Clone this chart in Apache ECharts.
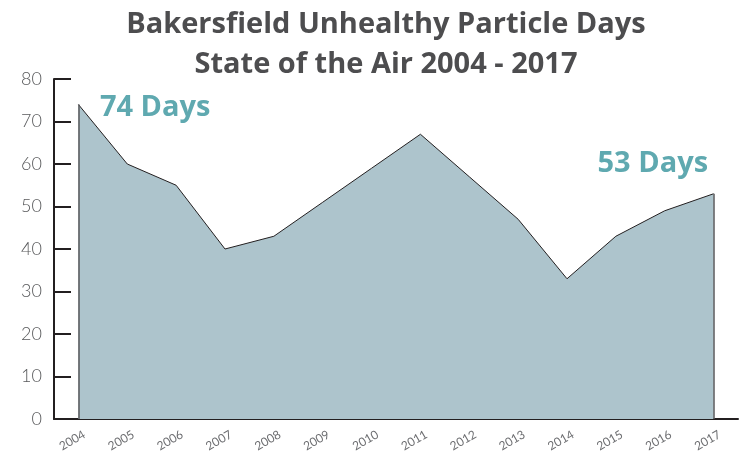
<!DOCTYPE html>
<html>
<head>
<meta charset="UTF-8">
<title>Bakersfield Unhealthy Particle Days</title>
<script src="https://cdn.jsdelivr.net/npm/echarts@6/dist/echarts.min.js"></script>
<style>
  html, body { margin: 0; padding: 0; background: #fff; }
  #main { width: 743px; height: 460px; }
</style>
</head>
<body>
<div id="main"></div>
<script>
// data
var years = ['2004', '2005', '2006', '2007', '2008', '2009', '2010', '2011', '2012', '2013', '2014', '2015', '2016', '2017'];
var days = [74, 60, 55, 40, 43, 51, 59, 67, 57, 47, 33, 43, 49, 53];
var yTicks = [0, 10, 20, 30, 40, 50, 60, 70, 80];

var first = 0;
var last = days.length - 1;

var chart = echarts.init(document.getElementById('main'));
var option = {
  animation: false,
  title: {
    text: 'Bakersfield Unhealthy Particle Days\nState of the Air 2004 - 2017',
    left: 381,
    top: 0,
    textAlign: 'center',
    textStyle: {
      fontFamily: 'Open Sans',
      fontSize: 29,
      fontWeight: 'bold',
      color: '#4d4d4f',
      lineHeight: 40
    }
  },
  grid: { left: 54, right: 5, top: 79, bottom: 41 },
  xAxis: {
    type: 'category',
    data: years,
    boundaryGap: true,
    axisLine: { lineStyle: { color: '#231f20', width: 2 } },
    axisTick: { alignWithLabel: true, inside: true, length: 8, lineStyle: { color: '#231f20', width: 2 } },
    axisLabel: {
      rotate: 30,
      align: 'center',
      margin: 18,
      padding: [0, 14, 0, 0],
      fontFamily: 'Lato',
      fontSize: 12,
      color: '#6d6e71'
    },
    splitLine: { show: false }
  },
  yAxis: {
    type: 'value',
    min: yTicks[0],
    max: yTicks[yTicks.length - 1],
    interval: yTicks[1] - yTicks[0],
    axisLine: { show: true, lineStyle: { color: '#231f20', width: 2 } },
    axisTick: { show: true, inside: true, length: 17, lineStyle: { color: '#231f20', width: 2 } },
    axisLabel: {
      margin: 12,
      padding: [12, 0, 0, 0],
      fontFamily: 'Lato',
      fontWeight: 300,
      fontSize: 18,
      color: '#58595b'
    },
    splitLine: { show: false }
  },
  series: [{
    type: 'line',
    data: days,
    symbol: 'none',
    lineStyle: { color: '#231f20', width: 1 },
    areaStyle: { color: '#adc4cc', opacity: 1 },
    markLine: {
      silent: true,
      symbol: 'none',
      label: { show: false },
      lineStyle: { color: '#58595b', width: 1.5, type: 'solid' },
      data: [
        [{ coord: [years[first], 0] }, { coord: [years[first], days[first]] }],
        [{ coord: [years[last], 0] }, { coord: [years[last], days[last]] }]
      ]
    },
    markPoint: {
      silent: true,
      symbol: 'circle',
      symbolSize: 1,
      itemStyle: { color: 'rgba(0,0,0,0)' },
      label: {
        fontFamily: 'Open Sans',
        fontSize: 29,
        fontWeight: 'bold',
        color: '#5fa9b0'
      },
      data: [
        { coord: [years[first], days[first]], label: { formatter: days[first] + ' Days', position: 'right', offset: [16, 3] } },
        { coord: [years[last], days[last]], label: { formatter: days[last] + ' Days', position: 'left', offset: [0, -30] } }
      ]
    }
  }]
};
chart.setOption(option);
</script>
</body>
</html>
